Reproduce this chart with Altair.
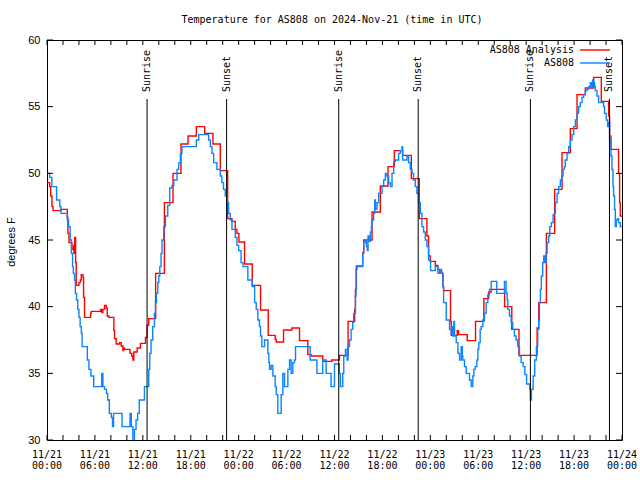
import altair as alt
import pandas as pd

# ---- data ----
blue_hours = [0.0, 0.33, 0.6, 1.2, 1.6, 1.75, 2.55, 2.7, 2.9, 3.05, 3.2, 3.3, 3.45, 3.55, 3.7, 3.85,
              4.0, 4.15, 4.3, 4.4, 5.05, 5.25, 5.5, 5.85, 6.85, 7.0, 7.2, 7.45, 7.6, 7.8, 8.05, 8.2,
              8.33, 9.4, 10.4, 10.55, 10.75, 10.95, 11.15, 11.35, 11.55, 12.2, 12.74, 12.87, 13.03,
              13.24, 13.45, 13.58, 13.7, 13.87, 14.0, 14.12, 14.28, 14.4, 14.62, 14.83, 15.12, 15.37,
              15.66, 15.87, 16.28, 16.5, 16.7, 16.9, 18.7, 19.0, 20.24, 20.45, 20.66, 20.87, 21.28,
              21.7, 21.9, 22.1, 22.32, 22.53, 22.74, 22.95, 23.16, 23.57, 23.78, 24.0, 24.3, 24.55,
              25.15, 25.7, 26.0, 26.2, 26.4, 26.6, 26.74, 26.9, 27.24, 27.66, 27.78, 27.87, 28.07,
              28.28, 28.57, 28.7, 28.9, 29.32, 29.53, 29.74, 30.16, 30.37, 30.57, 30.78, 30.99, 31.12,
              32.95, 33.8, 34.53, 34.95, 35.57, 36.0, 36.6, 36.74, 37.03, 37.16, 37.37, 37.58, 37.7,
              37.87, 38.08, 38.28, 38.4, 38.62, 38.7, 38.82, 39.53, 39.66, 39.87, 40.0, 40.12, 40.2,
              40.37, 40.5, 40.62, 40.7, 40.9, 41.03, 41.12, 41.32, 41.53, 41.95, 42.16, 42.37, 42.57,
              42.78, 42.99, 43.2, 43.41, 43.62, 44.03, 44.24, 44.45, 44.53, 45.07, 45.28, 45.49, 45.7,
              45.9, 46.12, 46.32, 46.53, 46.74, 46.95, 47.16, 47.37, 47.57, 47.78, 48.03, 48.62,
              48.95, 49.2, 49.4, 49.58, 49.66, 49.99, 50.4, 50.62, 50.7, 50.82, 50.95, 51.03, 51.24,
              51.45, 51.66, 51.87, 52.0, 52.07, 52.28, 52.49, 52.9, 53.12, 53.32, 53.45, 53.62, 53.83,
              53.95, 54.07, 54.24, 54.37, 54.57, 54.78, 54.99, 55.2, 55.41, 55.62, 56.32, 57.28,
              57.49, 57.62, 57.7, 57.91, 58.12, 58.32, 58.53, 58.74, 58.95, 59.16, 59.37, 59.62,
              59.84, 60.05, 60.45, 60.53, 60.66, 60.87, 61.07, 61.28, 61.45, 61.57, 61.66, 61.78,
              61.9, 62.07, 62.2, 62.32, 62.49, 62.62, 62.82, 62.95, 63.16, 63.37, 63.53, 63.66,
              63.87, 64.07, 64.28, 64.49, 64.62, 64.78, 64.9, 65.12, 65.32, 65.53, 65.74, 65.95,
              66.16, 66.37, 66.57, 66.78, 66.99, 67.2, 67.41, 67.62, 67.82, 68.03, 68.16, 68.32,
              68.45, 68.57, 68.66, 68.87, 69.07, 69.7, 69.82, 70.03, 70.2, 70.32, 70.45, 70.62,
              70.74, 70.87, 70.95, 71.07, 71.16, 71.28, 71.45, 71.57, 71.78, 72.0]
blue_temps = [50.0, 49.7, 49.0, 48.0, 47.5, 47.0, 46.5, 46.0, 45.0, 44.0, 43.0, 42.5, 42.0, 41.0, 40.5, 39.8,
              39.2, 38.5, 38.0, 37.0, 36.0, 35.3, 34.8, 34.0, 35.0, 34.0, 33.8, 33.5, 33.0, 32.0, 31.7, 31.0,
              32.0, 31.0, 32.0, 31.0, 30.0, 30.8, 31.5, 32.0, 33.0, 34.0, 35.3, 36.5, 37.5,
              38.5, 39.5, 40.3, 41.0, 41.8, 42.3, 43.0, 44.0, 45.0, 46.0, 46.8, 47.6, 48.9,
              49.1, 49.5, 50.3, 50.8, 51.5, 52.0, 52.5, 52.9, 52.5, 52.0, 51.5, 50.8, 50.3,
              49.8, 49.3, 48.8, 48.3, 47.8, 47.0, 46.5, 45.8, 45.2, 44.6, 44.2, 43.3, 43.0,
              42.0, 41.5, 40.3, 39.8, 39.0, 38.5, 37.8, 37.0, 37.5, 36.5, 35.8, 35.3, 35.6,
              34.8, 34.0, 33.4, 32.0, 33.4, 35.0, 34.0, 35.3, 36.0, 35.0, 35.8, 36.0, 37.0,
              36.0, 35.0, 36.0, 35.0, 34.0, 35.7, 35.0, 34.0, 35.0, 36.3, 36.8, 36.0, 37.0,
              37.5, 38.3, 38.8, 39.5, 40.8, 42.8, 43.0, 44.0, 44.8, 45.0, 44.5, 44.2, 45.3,
              44.9, 45.6, 46.0, 46.5, 47.0, 48.0, 47.3, 47.8, 48.5, 49.0, 49.5, 50.0, 49.8,
              49.3, 49.0, 50.0, 50.9, 51.0, 51.5, 51.7, 52.0, 51.0, 51.3, 50.8, 50.3, 50.0,
              49.5, 49.0, 48.5, 47.8, 47.0, 46.0, 45.6, 45.0, 44.5, 43.5, 42.7, 43.0,
              42.5, 42.8, 42.5, 41.5, 40.3, 39.0, 38.3, 37.9, 38.5, 37.8, 38.9, 37.8, 37.3,
              36.5, 36.0, 37.0, 36.3, 36.0, 35.5, 35.0, 34.5, 34.0, 34.8, 35.3, 35.5, 36.0,
              36.8, 37.3, 38.3, 38.5, 39.0, 39.5, 40.3, 40.9, 41.3, 41.9, 41.0, 41.9,
              41.0, 40.5, 39.8, 39.3, 38.8, 38.3, 37.8, 37.5, 37.0, 36.3, 35.8, 35.5,
              34.9, 34.2, 33.8, 33.0, 33.8, 34.8, 36.0, 37.0, 38.3, 39.0, 40.3, 41.3,
              42.3, 43.3, 43.8, 43.3, 44.0, 44.8, 45.3, 46.0, 46.3, 46.9, 47.0, 47.8,
              48.5, 49.0, 49.5, 49.8, 50.3, 50.5, 51.0, 51.5, 52.0, 52.5, 52.9, 53.5,
              54.0, 54.5, 55.0, 55.3, 55.7, 55.9, 56.2, 56.3, 56.5, 56.8, 56.5, 57.0,
              56.8, 56.5, 56.2, 55.8, 55.3, 55.0, 54.5, 54.0, 53.5, 53.8, 52.5, 51.3,
              50.3, 49.0, 48.3, 47.3, 46.0, 46.5, 46.6, 46.3, 46.0, 46.0]

red_hours = [0.0, 0.33, 0.46, 0.62, 0.75, 1.7, 2.54, 2.62, 2.75, 3.12, 3.33, 3.37, 3.46, 3.58, 3.66,
             4.0, 4.17, 4.29, 4.5, 4.58, 4.7, 5.46, 5.54, 6.7, 6.87, 7.0, 7.2, 7.42, 7.54, 7.75, 8.37,
             8.46, 8.66, 9.08, 9.29, 9.5, 9.58, 9.7, 10.4, 10.62, 10.75, 10.87, 11.29, 11.7, 12.33,
             12.53, 12.74, 13.6, 14.7, 15.78, 16.78, 17.66, 18.7, 19.74, 20.78, 21.7, 22.62, 23.16,
             23.57, 23.78, 24.03, 24.74, 25.7, 26.74, 27.7, 28.57, 28.7, 29.62, 30.66, 31.62, 32.66,
             33.07, 34.53, 35.66, 36.62, 37.7, 38.53, 38.62, 38.74, 39.53, 39.66, 40.7, 41.74, 42.7,
             43.49, 44.53, 45.62, 46.62, 47.57, 47.78, 47.99, 48.62, 48.95, 49.16, 49.45, 49.58,
             49.66, 50.53, 50.62, 51.37, 51.53, 52.62, 53.66, 54.7, 55.32, 55.62, 57.3, 58.2, 59.1,
             61.37, 61.57, 62.53, 63.57, 64.49, 65.53, 66.37, 67.41, 68.45, 69.41,
             70.32, 70.45, 70.62, 71.57, 71.7, 71.78, 72.0]
red_temps = [49.3, 49.0, 48.3, 47.5, 47.2, 47.3, 46.7, 45.5, 44.8, 44.3, 44.6, 44.0, 45.2, 43.3, 41.6,
             41.8, 42.0, 42.4, 42.2, 40.7, 39.2, 39.5, 39.65, 39.8, 39.55, 39.8, 40.1, 39.9, 39.3, 39.2, 38.2,
             37.6, 37.2, 37.3, 37.05, 36.7, 36.9, 36.8, 36.5, 36.3, 36.0, 36.6, 36.9, 37.25, 37.7,
             38.6, 39.1, 42.5, 47.8, 50.0, 52.2, 52.8, 53.5, 53.0, 52.2, 50.2, 46.6, 46.4,
             45.8, 45.5, 44.85, 43.2, 41.6, 39.75, 37.85, 37.55, 37.35, 38.25, 38.4, 37.45, 36.4,
             36.3, 35.9, 36.0, 36.35, 38.9, 39.8, 41.3, 43.05, 44.05, 45.0, 47.1, 49.05, 50.5,
             51.7, 51.35, 49.6, 46.6, 45.3, 43.8, 43.4, 43.1, 42.8, 42.6, 42.5, 41.5,
             41.2, 38.9, 37.85, 38.2, 37.9, 37.45, 38.9, 40.6, 41.1, 41.3, 40.0, 38.3, 36.35,
             38.4, 40.3, 45.5, 48.8, 51.55, 53.35, 55.9, 56.4, 57.2, 55.4,
             54.3, 52.8, 51.8, 50.0, 47.8, 46.8, 46.8]

sunrise_hours = [12.53, 36.53, 60.53]
sunset_hours = [22.49, 46.48, 70.43]
label_hours = [0, 6, 12, 18, 24, 30, 36, 42, 48, 54, 60, 66, 72]
label_dates = ["11/21", "11/21", "11/21", "11/21", "11/22", "11/22", "11/22", "11/22",
               "11/23", "11/23", "11/23", "11/23", "11/24"]
label_times = ["00:00", "06:00", "12:00", "18:00", "00:00", "06:00", "12:00", "18:00",
               "00:00", "06:00", "12:00", "18:00", "00:00"]
minor_hours = list(range(0, 73, 2))
y_values = [30, 35, 40, 45, 50, 55, 60]
title_text = "Temperature for AS808 on 2024-Nov-21 (time in UTC)"
legend_names = ["AS808 Analysis", "AS808"]
legend_colors = ["#ff0000", "#0a84ff"]

MONO = "DejaVu Sans Mono"
SANS = "Liberation Sans"
W, H = 575, 400

xs = alt.Scale(domain=[0, 72], nice=False, zero=False)
ys = alt.Scale(domain=[30, 60], nice=False, zero=False)
x_enc = alt.X("hour:Q", scale=xs, axis=None)
y_enc = alt.Y("temp:Q", scale=ys,
              axis=alt.Axis(values=y_values, tickSize=0, labelPadding=7, domain=False,
                            grid=False, title=None, labelFont=SANS, labelFontSize=11,
                            labelColor="black"))

red_df = pd.DataFrame({"hour": red_hours, "temp": red_temps})
blue_df = pd.DataFrame({"hour": blue_hours, "temp": blue_temps})

red_line = alt.Chart(red_df).mark_line(interpolate="step-after", color=legend_colors[0],
                                       strokeWidth=1.4, clip=True).encode(x=x_enc, y=y_enc)
blue_line = alt.Chart(blue_df).mark_line(interpolate="step-after", color=legend_colors[1],
                                         strokeWidth=1.4, clip=True).encode(x=x_enc, y=y_enc)

minor_df = pd.DataFrame({"hour": minor_hours})
xt_bot = alt.Chart(minor_df).mark_rule(color="black", strokeWidth=1).encode(
    x=x_enc, y=alt.value(H), y2=alt.value(H - 5))
xt_top = alt.Chart(minor_df).mark_rule(color="black", strokeWidth=1).encode(
    x=x_enc, y=alt.value(0), y2=alt.value(5))

yv_df = pd.DataFrame({"temp": y_values})
yt_left = alt.Chart(yv_df).mark_rule(color="black", strokeWidth=1).encode(
    y=y_enc, x=alt.value(0), x2=alt.value(6))
yt_right = alt.Chart(yv_df).mark_rule(color="black", strokeWidth=1).encode(
    y=y_enc, x=alt.value(W), x2=alt.value(W - 6))

lab_df = pd.DataFrame({"hour": label_hours, "d": label_dates, "t": label_times})
lab_d = alt.Chart(lab_df).mark_text(font=MONO, fontSize=10, color="black", baseline="middle").encode(
    x=x_enc, y=alt.value(414.5), text="d:N")
lab_t = alt.Chart(lab_df).mark_text(font=MONO, fontSize=10, color="black", baseline="middle").encode(
    x=x_enc, y=alt.value(426), text="t:N")

sun_df = pd.DataFrame({"hour": sunrise_hours + sunset_hours,
                       "lab": ["Sunrise"] * len(sunrise_hours) + ["Sunset"] * len(sunset_hours)})
sun_rules = alt.Chart(sun_df).mark_rule(color="black", strokeWidth=1).encode(
    x=x_enc, y=alt.value(59), y2=alt.value(H))
sun_text = alt.Chart(sun_df).mark_text(font=MONO, fontSize=10, color="black", angle=270,
                                       align="left", baseline="middle").encode(
    x=x_enc, y=alt.value(52), text="lab:N")

title = alt.Chart(pd.DataFrame({"t": [title_text]})).mark_text(
    font=MONO, fontSize=10, color="black", align="center", baseline="middle").encode(
    x=alt.value(285), y=alt.value(-20), text="t:N")
ylab = alt.Chart(pd.DataFrame({"t": ["degrees F"]})).mark_text(
    font=SANS, fontSize=11, color="black", angle=270, align="center", baseline="middle").encode(
    x=alt.value(-35.5), y=alt.value(202), text="t:N")

leg_layers = []
for i, (name, col) in enumerate(zip(legend_names, legend_colors)):
    ypos = 10 + 13 * i
    ldf = pd.DataFrame({"name": [name]})
    leg_layers.append(alt.Chart(ldf).mark_text(font=MONO, fontSize=10, color="black", align="right",
                                               baseline="middle").encode(
        x=alt.value(527), y=alt.value(ypos), text="name:N"))
    leg_layers.append(alt.Chart(ldf).mark_rule(strokeWidth=1.4, color=col).encode(
        x=alt.value(533), x2=alt.value(563), y=alt.value(ypos)))

chart = alt.layer(
    red_line, blue_line, sun_rules, sun_text, xt_bot, xt_top, yt_left, yt_right,
    lab_d, lab_t, title, ylab, *leg_layers
).properties(
    width=W, height=H,
    autosize=alt.AutoSizeParams(type="none"),
    padding={"left": 47, "top": 40, "right": 18, "bottom": 40},
    background="white",
).configure_view(stroke="black", strokeWidth=1)

chart.save("out.html", embed_options={"renderer": "svg", "actions": False})
